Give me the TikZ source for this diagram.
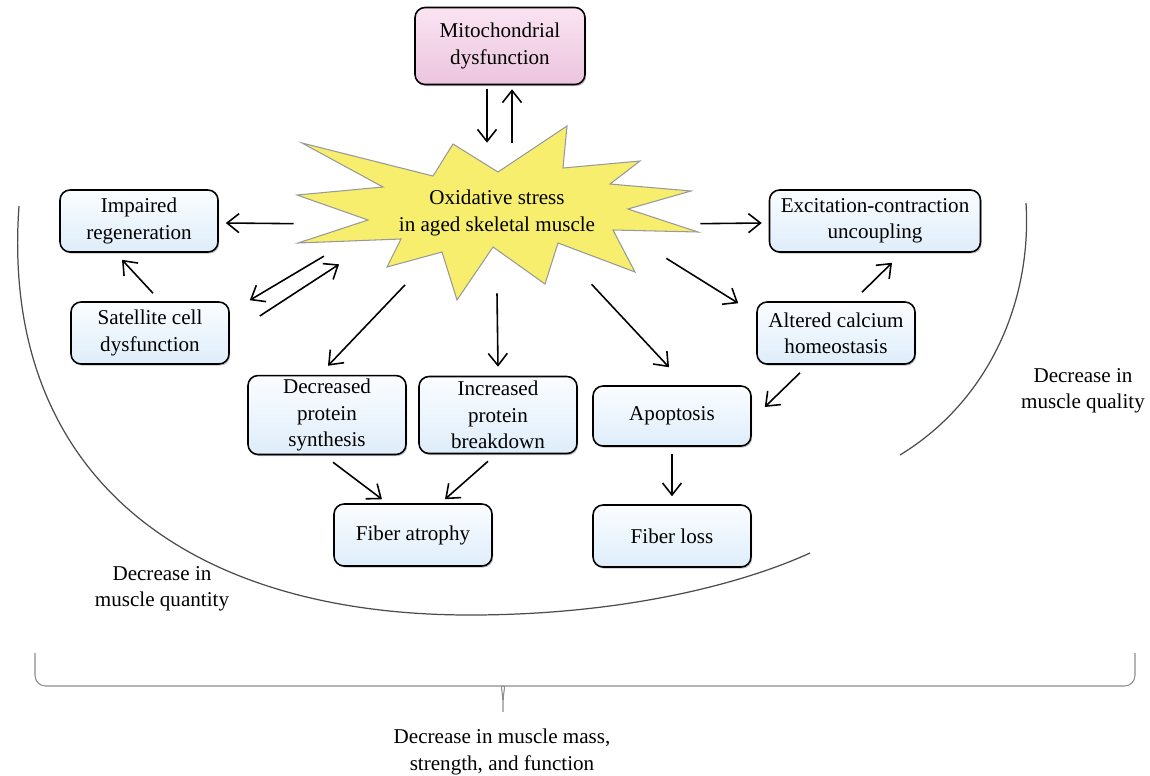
\documentclass[tikz,border=0pt]{standalone}
\usepackage{fontspec}
\setmainfont{Liberation Serif}
\usetikzlibrary{arrows.meta,calc,shapes.geometric,shadows}

\definecolor{boxtop}{RGB}{251,253,255}
\definecolor{boxbot}{RGB}{222,237,250}
\definecolor{pinktop}{RGB}{250,228,242}
\definecolor{pinkbot}{RGB}{236,196,222}
\definecolor{burstfill}{RGB}{246,238,108}

\tikzset{
  procbox/.style={draw=black, line width=0.9pt, rounded corners=0.2cm, align=center,
    top color=boxtop, bottom color=boxbot,
    drop shadow={shadow xshift=0.7pt, shadow yshift=-0.9pt, fill=black!50},
    minimum width=3.16cm, minimum height=1.24cm, inner sep=2pt,
    font=\fontsize{12}{15}\selectfont},
  mitobox/.style={procbox, top color=pinktop, bottom color=pinkbot,
    minimum width=3.4cm, minimum height=1.54cm},
  arr/.style={-{Straight Barb[length=2.4mm,width=3.8mm]}, line width=0.9pt},
  arcline/.style={draw=black!70, line width=0.7pt},
  bracket/.style={draw=black!45, line width=0.6pt},
  lbl/.style={align=center, font=\fontsize{12}{15}\selectfont}
}

\begin{document}
\begin{tikzpicture}[x=0.02cm, y=-0.02cm]
  \useasboundingbox (0,0) rectangle (1150,775);

  % Oxidative stress burst
  \filldraw[fill=burstfill, draw=black!40, line width=0.6pt]
    (302,143) -- (433,176) -- (453,144) -- (498,172) -- (567,126) -- (563,168)
    -- (640,161) -- (610,184) -- (691,191) -- (628,209) -- (698,232) -- (613,230)
    -- (635,272) -- (558,243) -- (545,284) -- (493,247) -- (457,300) -- (442,252)
    -- (387,267) -- (401,239) -- (298,243) -- (368,220) -- (297,195) -- (383,187) -- cycle;
  \node[ellipse, minimum width=8.2cm, minimum height=3.2cm, lbl] (ox) at (497,213)
    {Oxidative stress\\in aged skeletal muscle};

  % Boxes
  \node[mitobox] (mito) at (500,46) {Mitochondrial\\dysfunction};
  \node[procbox] (impreg) at (139,221) {Impaired\\regeneration};
  \node[procbox] (sat) at (150,333) {Satellite cell\\dysfunction};
  \node[procbox, minimum height=1.54cm] (decsyn) at (327,415) {Decreased\\protein\\synthesis};
  \node[procbox, minimum height=1.54cm] (incbrk) at (498,415) {Increased\\protein\\breakdown};
  \node[procbox, minimum height=1.2cm] (apop) at (672,416) {Apoptosis};
  \node[procbox] (atrophy) at (413,535) {Fiber atrophy};
  \node[procbox] (loss) at (672,536) {Fiber loss};
  \node[procbox, minimum width=4.22cm] (ecu) at (875,221) {Excitation-contraction\\uncoupling};
  \node[procbox] (calcium) at (836,333) {Altered calcium\\homeostasis};

  % Arrows
  \draw[arr] ($(mito.south)+(-13,4)$) -- ($(ox.north)+(-10,10)$);
  \draw[arr] ($(ox.north)+(15,10)$) -- ($(mito.south)+(12,4)$);
  \draw[arr] (ox.183) -- ($(impreg.east)+(7,2)$);
  \draw[arr] (ox.194) -- ($(sat.north east)+(20,-1)$);
  \draw[arr] ($(sat.east)+(30,-17)$) -- (ox.198);
  \draw[arr] ($(sat.north)+(3,-8)$) -- ($(impreg.south)+(-17,7)$);
  \draw[arr] (ox.218) -- ($(decsyn.north)+(1,-9)$);
  \draw[arr] (ox.270) -- ($(incbrk.north)+(0,-9)$);
  \draw[arr] (ox.323) -- ($(apop.north)+(-3,-18)$);
  \draw[arr] (ox.357) -- ($(ecu.west)+(-7,2)$);
  \draw[arr] (ox.345) -- ($(calcium.north west)+(-18,2)$);
  \draw[arr] ($(calcium.north)+(26,-9)$) -- ($(ecu.south)+(17,10)$);
  \draw[arr] ($(calcium.south)+(-36,8)$) -- ($(apop.east)+(13,-9)$);
  \draw[arr] ($(decsyn.south)+(6,7)$) -- ($(atrophy.north)+(-31,-4)$);
  \draw[arr] ($(incbrk.south)+(-10,7)$) -- ($(atrophy.north)+(32,-4)$);
  \draw[arr] ($(apop.south)+(0,7)$) -- ($(loss.north)+(0,-8)$);

  % Quantity and quality arcs
  \draw[arcline] (19,206) .. controls (0,470) and (180,615) .. (470,615)
    .. controls (620,615) and (740,585) .. (810,553);
  \draw[arcline] (1026,203) .. controls (1032,300) and (990,400) .. (900,455);
  \node[lbl] (qty) at (162,589) {Decrease in\\muscle quantity};
  \node[lbl] (qual) at (1083,391) {Decrease in\\muscle quality};

  % Brace and overall outcome
  \draw[bracket, rounded corners=6] (35,653) |- (492,686)
    .. controls (500,686) and (503,690) .. (503,718)
    .. controls (503,690) and (506,686) .. (514,686) -| (1135,653);
  \node[lbl] (total) at (502,752) {Decrease in muscle mass,\\strength, and function};
\end{tikzpicture}
\end{document}
